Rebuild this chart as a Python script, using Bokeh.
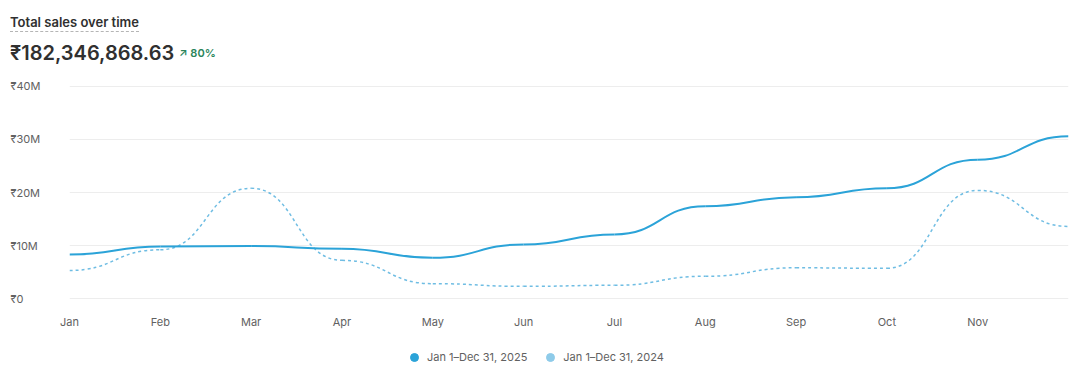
from bokeh.plotting import figure
from bokeh.models import (Div, Range1d, Legend, LegendItem, ColumnDataSource, FixedTicker)
from bokeh.core.properties import value
from bokeh.layouts import column, row
from bokeh.embed import file_html
from bokeh.resources import INLINE

# ---------------- data ----------------
months = ["Jan", "Feb", "Mar", "Apr", "May", "Jun", "Jul", "Aug", "Sep", "Oct", "Nov", "Dec"]
tick_labels = ["Jan", "Feb", "Mar", "Apr", "May", "Jun", "Jul", "Aug", "Sep", "Oct", "Nov"]
sales_2025 = [8.3, 9.8, 9.9, 9.4, 7.7, 10.2, 12.1, 17.4, 19.1, 20.8, 26.2, 30.6]   # ₹ millions
sales_2024 = [5.3, 9.2, 20.8, 7.2, 2.8, 2.3, 2.5, 4.2, 5.8, 5.7, 20.4, 13.6]      # ₹ millions
y_ticks = [0, 10, 20, 30, 40]
y_tick_labels = ["₹0", "₹10M", "₹20M", "₹30M", "₹40M"]
series_labels = ["Jan 1–Dec 31, 2025", "Jan 1–Dec 31, 2024"]
title_text = "Total sales over time"
total_text = "₹182,346,868.63"
change_text = "↗ 80%"

FONT = "Inter"
C_CUR = "#2ba3d8"
C_PREV = "#6fbde3"
C_PREV_LEG = "#8ecbe9"
TXT = "#616161"

# layout geometry
Y0, Y1 = -1.5, 41.5
FRAME_H = 228
BOTTOM = 28

header = Div(
    text=f"""
<div style="position:relative;width:400px;height:70px;font-family:Inter,sans-serif;">
  <span style="position:absolute;left:2px;top:6px;font-size:13px;line-height:16px;font-weight:600;color:#303030;border-bottom:1px dashed #b5b5b5;padding-bottom:1px;">{title_text}</span>
  <span style="position:absolute;left:2px;top:33px;font-size:20px;line-height:24px;font-weight:600;color:#303030;">{total_text}</span>
  <span style="position:absolute;left:171px;top:39px;font-size:11px;line-height:13px;font-weight:600;color:#29845a;">{change_text}</span>
</div>""",
    width=1063, height=70, margin=(0, 0, 0, 0),
)

# ---------- y tick label column ----------
yfig = figure(width=49, height=FRAME_H + BOTTOM, output_backend="svg", toolbar_location=None,
              x_range=Range1d(0, 1), y_range=Range1d(Y0, Y1),
              min_border_left=0, min_border_right=0, min_border_top=0,
              min_border_bottom=BOTTOM, margin=(0, 0, 0, 0))
yfig.axis.visible = False
yfig.grid.visible = False
yfig.outline_line_color = None
yfig.border_fill_color = "white"
ysrc = ColumnDataSource(dict(x=[0] * len(y_ticks), y=y_ticks, t=y_tick_labels))
yfig.text(x="x", y="y", text="t", source=ysrc, x_offset=2, text_align="left",
          text_baseline="middle", text_font=value(FONT), text_font_size="11px", text_color=TXT)

# ---------- main chart ----------
p = figure(width=1014, height=FRAME_H + BOTTOM, output_backend="svg", toolbar_location=None,
           x_range=Range1d(0, len(months) - 1), y_range=Range1d(Y0, Y1),
           min_border_left=12, min_border_right=3, min_border_top=0, min_border_bottom=BOTTOM,
           margin=(0, 0, 0, 0))
p.outline_line_color = None
p.background_fill_color = "white"
p.border_fill_color = "white"

p.xgrid.visible = False
p.yaxis.ticker = FixedTicker(ticks=y_ticks)
p.yaxis.visible = False
p.ygrid.ticker = FixedTicker(ticks=y_ticks)
p.ygrid.grid_line_color = "#ededed"
p.ygrid.grid_line_width = 1

p.xaxis.ticker = FixedTicker(ticks=list(range(len(tick_labels))))
p.xaxis.major_label_overrides = {i: t for i, t in enumerate(tick_labels)}
p.xaxis.axis_line_color = None
p.xaxis.major_tick_line_color = None
p.xaxis.minor_tick_line_color = None
p.xaxis.major_tick_out = 0
p.xaxis.major_label_standoff = 8
p.xaxis.major_label_text_font = FONT
p.xaxis.major_label_text_font_size = "11px"
p.xaxis.major_label_text_color = TXT

def bump_source(vals):
    xs = list(range(len(vals)))
    return ColumnDataSource(dict(
        x0=xs[:-1], y0=vals[:-1], x1=xs[1:], y1=vals[1:],
        cx0=[x + 0.5 for x in xs[:-1]], cy0=vals[:-1],
        cx1=[x + 0.5 for x in xs[:-1]], cy1=vals[1:],
    ))

p.bezier(x0="x0", y0="y0", x1="x1", y1="y1", cx0="cx0", cy0="cy0", cx1="cx1", cy1="cy1",
         source=bump_source(sales_2024), line_color=C_PREV, line_width=1.5, line_dash="3 3")
p.bezier(x0="x0", y0="y0", x1="x1", y1="y1", cx0="cx0", cy0="cy0", cx1="cx1", cy1="cy1",
         source=bump_source(sales_2025), line_color=C_CUR, line_width=2)

# ---------- legend strip ----------
leg = figure(width=1063, height=38, output_backend="svg", toolbar_location=None,
             x_range=Range1d(0, 1), y_range=Range1d(0, 1),
             min_border_left=0, min_border_right=0, min_border_top=0, min_border_bottom=0,
             margin=(0, 0, 0, 0))
leg.axis.visible = False
leg.grid.visible = False
leg.outline_line_color = None
leg.border_fill_color = "white"
nan = float("nan")
r_cur = leg.scatter("x", "y", source=ColumnDataSource(dict(x=[nan], y=[nan])), marker="circle",
                    size=8, fill_color=C_CUR, line_color=C_CUR)
r_prev = leg.scatter("x", "y", source=ColumnDataSource(dict(x=[nan], y=[nan])), marker="circle",
                     size=8, fill_color=C_PREV_LEG, line_color=C_PREV_LEG)
legend = Legend(items=[LegendItem(label=series_labels[0], renderers=[r_cur]),
                       LegendItem(label=series_labels[1], renderers=[r_prev])],
                orientation="horizontal", location=(396, 5),
                glyph_width=20, glyph_height=20, label_height=13, label_width=10,
                label_standoff=3, spacing=13, padding=0, margin=0,
                border_line_color=None, background_fill_alpha=0,
                label_text_font=FONT, label_text_font_size="11px", label_text_color=TXT)
leg.add_layout(legend)

layout = column(header, row(yfig, p, spacing=0), leg, spacing=0, margin=(8, 0, 0, 8))
open("out.html", "w").write(file_html(layout, INLINE))
